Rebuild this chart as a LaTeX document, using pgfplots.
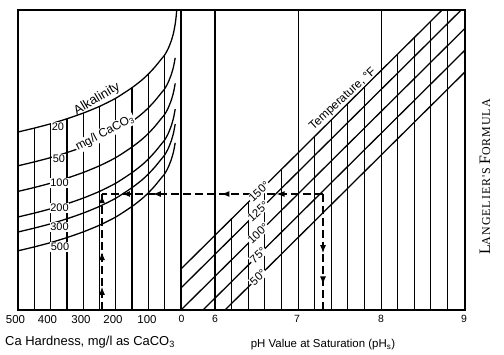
\documentclass[border=0pt]{standalone}
\usepackage{pgfplots}
\pgfplotsset{compat=1.18}
\usepackage{fontspec}
\setsansfont{Liberation Sans}
\newfontfamily\capsfont[LetterSpace=8]{Liberation Serif}
\usetikzlibrary{decorations.markings,arrows.meta}
\newcommand{\fs}[1]{\fontsize{#1}{#1}\selectfont}
\tikzset{
  lbl/.style={fill=white, inner sep=0.8pt},
  dsh/.style={line width=1.3pt, dash pattern=on 8bp off 4bp},
  arr/.tip={Latex[length=8bp,width=6bp]},
}
\begin{document}
\begin{tikzpicture}
\begin{axis}[
  scale only axis, width=447bp, height=300bp,
  xmin=18, xmax=465, ymin=45, ymax=345,
  axis line style={line width=1.3pt},
  xtick={18,47.5,81,113,147,181.5,215,297,381,464},
  xticklabels={{\fs{11.5}\hspace*{-5bp}500},{\fs{11.5}400},{\fs{11.5}300},{\fs{11.5}200},{\fs{11.5}100},{\fs{10.5}0},{\fs{10.5}6},{\fs{10.5}7},{\fs{10.5}8},{\fs{10.5}9}},
  major tick length=0pt, ytick=\empty,
  xticklabel style={font=\sffamily, yshift=-2bp},
  clip=false,
  cycle list={{black, mark=none}},
  every axis plot/.append style={line width=1.3pt},
]
% ---- alkalinity curves (left panel) ----
\addplot+[smooth, tension=0.4] coordinates {(18.0,223) (34.3,226.9) (50.6,231.2) (66.9,236.2) (83.2,241.9) (99.5,248.6) (115.8,256.8) (132.1,267.4) (141.9,275) (148.4,281) (154.9,288) (161.4,296) (164.7,300) (168.0,306) (171.2,314) (173.5,322) (175.2,331) (176.2,339) (176.7,345)};
\addplot+[smooth, tension=0.4] coordinates {(18.0,189.2) (34.3,193.1) (50.6,197.4) (66.9,202.4) (83.2,208.1) (99.5,214.8) (115.8,223.0) (132.1,233.6) (141.9,241.2) (148.4,247.2) (154.9,254.2) (161.4,262.2) (164.7,266.2) (168.0,272.2) (171.2,280.2) (173.5,288.2) (175.2,297.2)};
\addplot+[smooth, tension=0.4] coordinates {(18.0,163.6) (34.3,167.5) (50.6,171.8) (66.9,176.8) (83.2,182.5) (99.5,189.2) (115.8,197.4) (132.1,208.0) (141.9,215.6) (148.4,221.6) (154.9,228.6) (161.4,236.6) (164.7,240.6) (168.0,246.6) (171.2,254.6) (173.5,262.6) (175.2,271.6)};
\addplot+[smooth, tension=0.4] coordinates {(18.0,138.0) (34.3,141.9) (50.6,146.2) (66.9,151.2) (83.2,156.9) (99.5,163.6) (115.8,171.8) (132.1,182.4) (141.9,190) (148.4,196) (154.9,203) (161.4,211) (164.7,215) (168.0,221) (171.2,229) (173.5,237) (175.2,246)};
\addplot+[smooth, tension=0.4] coordinates {(18.0,123.0) (34.3,126.9) (50.6,131.2) (66.9,136.2) (83.2,141.9) (99.5,148.6) (115.8,156.8) (132.1,167.4) (141.9,175) (148.4,181) (154.9,188) (161.4,196) (164.7,200) (168.0,206) (171.2,214) (173.5,222) (175.2,231)};
\addplot+[smooth, tension=0.4] coordinates {(18.0,104.2) (34.3,108.1) (50.6,112.4) (66.9,117.4) (83.2,123.1) (99.5,129.8) (115.8,138.0) (132.1,148.6) (141.9,156.2) (148.4,162.2) (154.9,169.2) (161.4,177.2) (164.7,181.2) (168.0,187.2) (171.2,195.2) (173.5,203.2) (175.2,212.2)};
% ---- hardness grid lines ----
\addplot coordinates {(34.3,45) (34.3,226.9)};
\addplot coordinates {(50.6,45) (50.6,231.2)};
\addplot coordinates {(66.9,45) (66.9,236.2)};
\addplot coordinates {(83.2,45) (83.2,241.9)};
\addplot coordinates {(99.5,45) (99.5,248.6)};
\addplot coordinates {(115.8,45) (115.8,256.8)};
\addplot coordinates {(132.1,45) (132.1,267.4)};
\addplot coordinates {(148.4,45) (148.4,281)};
\addplot coordinates {(164.7,45) (164.7,300)};
\addplot coordinates {(181,45) (181,345)};
% ---- pH grid lines ----
\addplot coordinates {(215,45) (215,345)};
\addplot coordinates {(298.2,45) (298.2,345)};
\addplot coordinates {(381.4,45) (381.4,345)};
\addplot coordinates {(447.4,45) (447.4,345)};
\addplot coordinates {(231.6,45) (231.6,136.2)};
\addplot coordinates {(248.2,45) (248.2,152.7)};
\addplot coordinates {(264.8,45) (264.8,169.1)};
\addplot coordinates {(281.4,45) (281.4,185.6)};
\addplot coordinates {(314.6,45) (314.6,218.5)};
\addplot coordinates {(331.2,45) (331.2,235.0)};
\addplot coordinates {(347.8,45) (347.8,251.5)};
\addplot coordinates {(364.4,45) (364.4,267.9)};
\addplot coordinates {(397.6,45) (397.6,300.9)};
\addplot coordinates {(414.2,45) (414.2,317.3)};
\addplot coordinates {(430.8,45) (430.8,333.8)};
% ---- temperature lines ----
\addplot coordinates {(181,86) (442.1,345)};
\addplot coordinates {(181,67) (461.2,345)};
\addplot coordinates {(181,45) (465,326.7)};
\addplot coordinates {(203,45) (465,304.9)};
\addplot coordinates {(225,45) (465,283.1)};
% ---- dashed example path ----
\addplot+[dsh, postaction={decorate}, decoration={markings,
  mark=at position 0.2 with {\arrow{arr}},
  mark=at position 0.5 with {\arrow{arr}},
  mark=at position 0.99 with {\arrow{arr}}}]
  coordinates {(102,45) (102,161)};
\addplot+[dsh, postaction={decorate}, decoration={markings,
  mark=at position 0.21 with {\arrow{arr}},
  mark=at position 0.46 with {\arrow{arr}},
  mark=at position 0.77 with {\arrow{arr}},
  mark=at position 0.91 with {\arrow{arr}}}]
  coordinates {(323,161) (102,161)};
\addplot+[dsh, postaction={decorate}, decoration={markings,
  mark=at position 0.51 with {\arrow{arr}},
  mark=at position 0.78 with {\arrow{arr}}}]
  coordinates {(323,161) (323,45)};
% ---- labels ----
\node[lbl, font=\sffamily\fs{11}] at (axis cs:58,228) {20};
\node[lbl, font=\sffamily\fs{11}] at (axis cs:59,196) {50};
\node[lbl, font=\sffamily\fs{11}] at (axis cs:59.5,172) {100};
\node[lbl, font=\sffamily\fs{11}] at (axis cs:59.5,147) {200};
\node[lbl, font=\sffamily\fs{11}] at (axis cs:59.5,128) {300};
\node[lbl, font=\sffamily\fs{11}] at (axis cs:60,108) {500};
\node[font=\sffamily\fs{13}, rotate=31] at (axis cs:97,256) {Alkalinity};
\node[lbl, font=\sffamily\fs{12}, rotate=28] at (axis cs:105,222) {mg/l CaCO\textsubscript{3}};
\node[lbl, font=\sffamily\fs{11.5}, rotate=43] at (axis cs:259,163.4) {150°};
\node[lbl, font=\sffamily\fs{11.5}, rotate=43] at (axis cs:258,143.4) {125°};
\node[lbl, font=\sffamily\fs{11.5}, rotate=43] at (axis cs:258,121.4) {100°};
\node[lbl, font=\sffamily\fs{11.5}, rotate=43] at (axis cs:258,99.6) {75°};
\node[lbl, font=\sffamily\fs{11.5}, rotate=43] at (axis cs:258,77.7) {50°};
\node[font=\sffamily\fs{12}, rotate=42.6] at (axis cs:343,256) {Temperature, °F};
\node[font=\sffamily\fs{13}] at (axis cs:90,13) {Ca Hardness, mg/l as CaCO\textsubscript{3}};
\node[font=\sffamily\fs{11.5}] at (axis cs:323,10) {pH Value at Saturation (pH\textsubscript{s})};
\node[rotate=90] at (axis cs:485,178) {\capsfont{\fs{16}L}{\fs{12}ANGELIER'S} {\fs{16}F}{\fs{12}ORMULA}};
\coordinate (BL) at (axis cs:0,0);
\coordinate (TR) at (axis cs:504,355);
\end{axis}
\pgfresetboundingbox
\path (BL) rectangle (TR);
\end{tikzpicture}
\end{document}
